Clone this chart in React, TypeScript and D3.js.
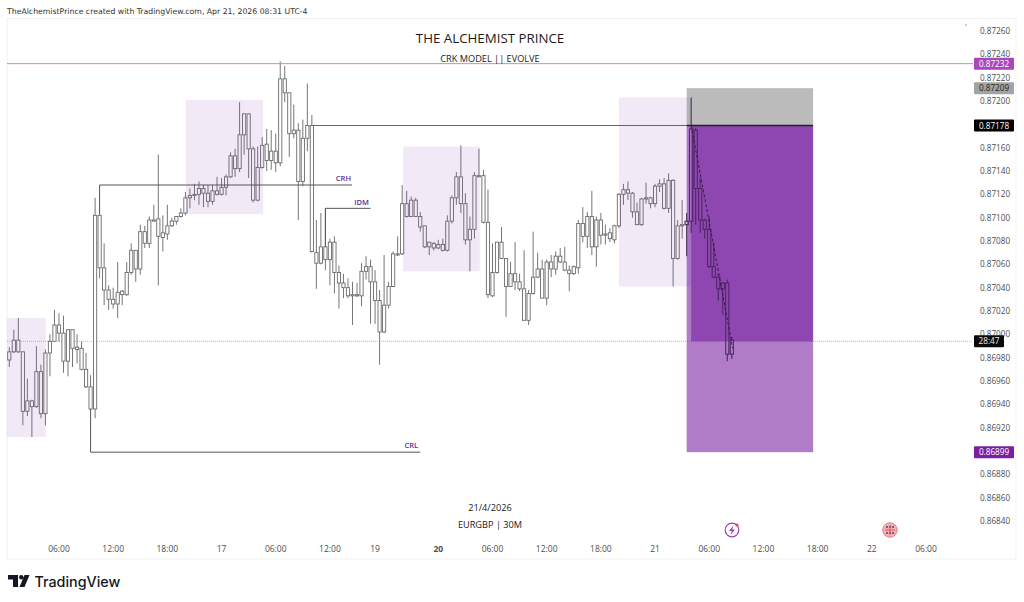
import React, { useEffect, useRef } from 'react';
import * as d3 from 'd3';

const width = 1024;
const height = 602;

// EURGBP 30m candles, prices in points (87000 = 0.87000)
const opens = [
  86978, 86985, 86995, 86985, 86934, 86943, 86938, 86968, 86932, 86984,
  86994, 87008, 87001, 86977, 87004, 86989, 86988, 86970, 86955, 86936,
  87102, 87057, 87038, 87030, 87026, 87037, 87034, 87053, 87072, 87056,
  87088, 87078, 87098, 87099, 87083, 87086, 87093, 87097, 87101, 87104,
  87117, 87119, 87120, 87125, 87121, 87114, 87123, 87120, 87126, 87135,
  87153, 87142, 87171, 87189, 87159, 87115, 87143, 87163, 87149, 87157,
  87147, 87219, 87207, 87172, 87175, 87131, 87168, 87179, 87070, 87061,
  87075, 87064, 87079, 87053, 87044, 87040, 87034, 87033, 87033, 87054,
  87058, 87045, 87029, 87002, 87025, 87041, 87069, 87069, 87112, 87101,
  87115, 87101, 87093, 87079, 87074, 87077, 87072, 87072, 87097, 87117,
  87135, 87112, 87081, 87090, 87136, 87136, 87096, 87033, 87053, 87079,
  87065, 87041, 87052, 87045, 87039, 87012, 87035, 87049, 87056, 87031,
  87062, 87056, 87067, 87062, 87055, 87052, 87057, 87095, 87084, 87101,
  87075, 87098, 87086, 87087, 87081, 87093, 87120, 87124, 87121, 87105,
  87094, 87116, 87117, 87112, 87127, 87129, 87108, 87132, 87065, 87093,
  87094, 87097, 87175, 87125, 87098, 87090, 87058, 87049, 87039, 87044,
  86983,
];
const highs = [
  86989, 87004, 87014, 86985, 86962, 86944, 86990, 86974, 86987, 87000,
  87021, 87018, 87016, 87004, 87004, 87000, 86994, 86984, 86965, 87117,
  87103, 87078, 87042, 87040, 87062, 87038, 87062, 87078, 87072, 87094,
  87093, 87101, 87111, 87154, 87102, 87111, 87100, 87101, 87108, 87122,
  87125, 87129, 87131, 87128, 87128, 87128, 87135, 87134, 87137, 87156,
  87159, 87199, 87189, 87189, 87161, 87161, 87169, 87176, 87175, 87172,
  87234, 87230, 87207, 87197, 87181, 87184, 87215, 87188, 87098, 87104,
  87108, 87082, 87084, 87059, 87052, 87048, 87045, 87044, 87061, 87067,
  87064, 87055, 87038, 87068, 87045, 87071, 87084, 87128, 87123, 87118,
  87117, 87105, 87093, 87079, 87079, 87081, 87082, 87102, 87119, 87139,
  87162, 87121, 87101, 87139, 87159, 87141, 87124, 87078, 87079, 87092,
  87065, 87062, 87079, 87052, 87072, 87038, 87088, 87070, 87064, 87064,
  87068, 87071, 87074, 87075, 87059, 87059, 87098, 87109, 87105, 87123,
  87101, 87104, 87094, 87091, 87094, 87121, 87129, 87131, 87122, 87113,
  87117, 87130, 87118, 87129, 87133, 87134, 87138, 87133, 87098, 87115,
  87104, 87203, 87177, 87134, 87099, 87101, 87079, 87052, 87045, 87047,
  86998,
];
const lows = [
  86972, 86984, 86984, 86922, 86930, 86912, 86937, 86928, 86922, 86964,
  86994, 86994, 86967, 86964, 86972, 86975, 86969, 86954, 86935, 86928,
  87048, 87025, 87021, 87022, 87014, 87025, 87033, 87051, 87045, 87051,
  87074, 87074, 87097, 87042, 87071, 87081, 87092, 87094, 87100, 87102,
  87108, 87115, 87111, 87109, 87109, 87111, 87119, 87119, 87119, 87134,
  87135, 87139, 87154, 87134, 87113, 87114, 87142, 87140, 87141, 87139,
  87144, 87199, 87152, 87168, 87098, 87127, 87157, 87070, 87039, 87060,
  87055, 87042, 87035, 87022, 87031, 87031, 87008, 87032, 87024, 87047,
  87009, 87009, 86974, 87001, 87022, 87041, 87067, 87068, 87100, 87101,
  87101, 87088, 87074, 87068, 87072, 87073, 87071, 87071, 87095, 87111,
  87104, 87077, 87054, 87082, 87135, 87095, 87031, 87032, 87052, 87065,
  87015, 87041, 87038, 87037, 87012, 87008, 87034, 87048, 87031, 87025,
  87049, 87051, 87061, 87054, 87037, 87051, 87052, 87079, 87074, 87068,
  87058, 87077, 87077, 87079, 87078, 87091, 87111, 87115, 87100, 87094,
  87093, 87112, 87108, 87109, 87122, 87107, 87104, 87041, 87064, 87082,
  87067, 87087, 87094, 87087, 87082, 87057, 87048, 87029, 87017, 86977,
  86979,
];
const closes = [
  86985, 86995, 86985, 86934, 86943, 86938, 86968, 86932, 86984, 86994,
  87008, 87001, 86977, 87004, 86988, 86987, 86970, 86955, 86936, 87102,
  87057, 87038, 87030, 87026, 87036, 87034, 87053, 87072, 87056, 87088,
  87078, 87098, 87097, 87084, 87087, 87093, 87097, 87101, 87104, 87117,
  87119, 87120, 87125, 87121, 87114, 87123, 87120, 87126, 87135, 87153,
  87142, 87171, 87189, 87159, 87115, 87143, 87162, 87149, 87157, 87147,
  87219, 87207, 87172, 87175, 87131, 87168, 87179, 87071, 87061, 87075,
  87064, 87079, 87053, 87044, 87040, 87033, 87033, 87034, 87054, 87058,
  87045, 87029, 87002, 87025, 87041, 87069, 87068, 87112, 87101, 87115,
  87101, 87092, 87075, 87075, 87078, 87074, 87077, 87097, 87117, 87135,
  87112, 87081, 87090, 87136, 87135, 87096, 87034, 87053, 87079, 87065,
  87041, 87052, 87045, 87039, 87012, 87035, 87049, 87056, 87031, 87062,
  87056, 87067, 87062, 87055, 87052, 87058, 87095, 87084, 87101, 87075,
  87098, 87085, 87085, 87082, 87093, 87120, 87124, 87121, 87105, 87094,
  87116, 87117, 87112, 87127, 87129, 87108, 87132, 87065, 87093, 87094,
  87097, 87176, 87125, 87098, 87090, 87058, 87049, 87039, 87044, 86983,
  86995,
];

const priceTicks = [
  0.8726, 0.8724, 0.8722, 0.872, 0.8716, 0.8714, 0.8712, 0.871, 0.8708, 0.8706, 0.8704,
  0.8702, 0.87, 0.8698, 0.8696, 0.8694, 0.8692, 0.8688, 0.8686, 0.8684,
];
const timeTickBars = [11, 23, 35, 47, 59, 71, 81, 95, 107, 119, 131, 143, 155, 167, 179, 191, 203];
const timeTickLabels = ['06:00', '12:00', '18:00', '17', '06:00', '12:00', '19', '20', '06:00', '12:00', '18:00', '21', '06:00', '12:00', '18:00', '22', '06:00'];

// highlighted boxes: [first bar, last bar, top price, bottom price]
const zones = [
  [-0.5, 8.1, 0.87014, 0.86912],
  [39.1, 56.2, 0.87201, 0.87103],
  [87.2, 104.2, 0.87161, 0.87054],
  [135, 151.2, 0.87203, 0.87041],
];

const stopPrice = 0.87211;
const entryPrice = 0.87179;
const targetPrice = 0.86899;
const lastPrice = 0.86994;
const crhPrice = 0.87232;

const App: React.FC = () => {
  const svgRef = useRef<SVGSVGElement>(null);

  useEffect(() => {
    if (!svgRef.current) return;
    const svg = d3.select(svgRef.current);
    svg.selectAll('*').remove();

    const x = d3.scaleLinear().domain([0, 203]).range([9.3, 926]);
    const y = d3.scaleLinear().domain([0.8726, 0.8684]).range([31, 521]);
    const pt = (v: number) => y(v / 100000);
    const left = 7;
    const plotRight = 973;
    const font = '"Open Sans", sans-serif';

    // panel frame
    svg.append('rect')
      .attr('x', left).attr('y', 18.5)
      .attr('width', 1016 - left).attr('height', 540.5)
      .attr('fill', '#fff').attr('stroke', '#f1f1f3');

    svg.append('text')
      .attr('x', 7).attr('y', 13.5)
      .attr('font-family', '"DejaVu Sans", sans-serif').attr('font-size', 7.75)
      .attr('fill', '#333')
      .text('TheAlchemistPrince created with TradingView.com, Apr 21, 2026 08:31 UTC-4');

    // last price dotted line under candles
    svg.append('line')
      .attr('x1', left).attr('x2', plotRight)
      .attr('y1', y(lastPrice)).attr('y2', y(lastPrice))
      .attr('stroke', '#bdbdbd').attr('stroke-width', 1).attr('stroke-dasharray', '1 1');

    // candles
    const bars = d3.range(opens.length);
    const candles = svg.append('g');
    candles.selectAll('line')
      .data(bars)
      .join('line')
      .attr('x1', (i) => x(i)).attr('x2', (i) => x(i))
      .attr('y1', (i) => pt(highs[i])).attr('y2', (i) => pt(lows[i]))
      .attr('stroke', '#666').attr('stroke-width', 0.9);
    candles.selectAll('rect')
      .data(bars)
      .join('rect')
      .attr('x', (i) => x(i) - 1.6)
      .attr('width', 3.2)
      .attr('y', (i) => pt(Math.max(opens[i], closes[i])))
      .attr('height', (i) => Math.max(0.8, Math.abs(pt(opens[i]) - pt(closes[i]))))
      .attr('fill', '#fff').attr('stroke', '#6b6b6b').attr('stroke-width', 0.9);

    // zones go over the candles
    svg.append('g').selectAll('rect')
      .data(zones)
      .join('rect')
      .attr('x', (d) => x(d[0]))
      .attr('y', (d) => y(d[2]))
      .attr('width', (d) => x(d[1]) - x(d[0]))
      .attr('height', (d) => y(d[3]) - y(d[2]))
      .attr('fill', 'rgb(128,60,172)').attr('fill-opacity', 0.11);

    // short position tool
    const toolStart = x(150);
    const toolDark = x(151);
    const toolEnd = x(178);
    svg.append('rect')
      .attr('x', toolStart).attr('width', toolEnd - toolStart)
      .attr('y', y(stopPrice)).attr('height', y(entryPrice) - y(stopPrice))
      .attr('fill', 'rgb(120,120,120)').attr('fill-opacity', 0.5);
    svg.append('rect')
      .attr('x', toolStart).attr('width', toolEnd - toolStart)
      .attr('y', y(entryPrice)).attr('height', y(targetPrice) - y(entryPrice))
      .attr('fill', 'rgb(123,37,163)').attr('fill-opacity', 0.6);
    svg.append('rect')
      .attr('x', toolDark).attr('width', toolEnd - toolDark)
      .attr('y', y(entryPrice)).attr('height', y(lastPrice) - y(entryPrice))
      .attr('fill', 'rgb(120,35,160)').attr('fill-opacity', 0.6);

    // the candles under the tool still read dark through it
    const covered = bars.filter((i) => i >= 150);
    const over = svg.append('g').attr('stroke', '#3b2350').attr('stroke-opacity', 0.75);
    over.selectAll('line')
      .data(covered)
      .join('line')
      .attr('x1', (i) => x(i)).attr('x2', (i) => x(i))
      .attr('y1', (i) => pt(highs[i]))
      .attr('y2', (i) => pt(Math.max(opens[i], closes[i])))
      .attr('stroke-width', 0.9);
    over.selectAll('line.low')
      .data(covered)
      .join('line')
      .attr('class', 'low')
      .attr('x1', (i) => x(i)).attr('x2', (i) => x(i))
      .attr('y1', (i) => pt(Math.min(opens[i], closes[i])))
      .attr('y2', (i) => pt(lows[i]))
      .attr('stroke-width', 0.9);
    over.selectAll('rect')
      .data(covered)
      .join('rect')
      .attr('x', (i) => x(i) - 1.6)
      .attr('width', 3.2)
      .attr('y', (i) => pt(Math.max(opens[i], closes[i])))
      .attr('height', (i) => Math.max(0.8, Math.abs(pt(opens[i]) - pt(closes[i]))))
      .attr('fill', 'none').attr('stroke-width', 0.9);

    svg.append('line')
      .attr('x1', x(151)).attr('x2', x(160.2))
      .attr('y1', y(entryPrice)).attr('y2', y(0.86988))
      .attr('stroke', '#2f1f3a').attr('stroke-width', 1).attr('stroke-dasharray', '3 2');

    // structure lines
    const seg = (x1: number, y1: number, x2: number, y2: number, c = '#555', w = 1) =>
      svg.append('line')
        .attr('x1', x1).attr('y1', y1).attr('x2', x2).attr('y2', y2)
        .attr('stroke', c).attr('stroke-width', w);

    seg(left, y(crhPrice), plotRight, y(crhPrice), '#c884d2');
    seg(x(67), y(entryPrice), x(150), y(entryPrice), '#666');
    seg(toolStart, y(entryPrice), toolEnd, y(entryPrice), '#222', 1.4);

    seg(x(20), y(0.87128), x(75.9), y(0.87128));
    seg(x(20), y(0.87128), x(20), y(0.87103));
    seg(x(70), y(0.87108), x(80), y(0.87108));
    seg(x(70), y(0.87108), x(70), y(0.87075));
    seg(x(18), y(targetPrice), x(91), y(targetPrice));
    seg(x(18), y(targetPrice), x(18), y(0.86936));

    const tag = (label: string, tx: number, ty: number) =>
      svg.append('text')
        .attr('x', tx).attr('y', ty).attr('text-anchor', 'middle')
        .attr('font-family', font).attr('font-size', 7.5).attr('font-weight', 600)
        .attr('fill', '#5b2a96').text(label);
    tag('CRH', x(74), y(0.87128) - 4);
    tag('IDM', x(78), y(0.87108) - 3.5);
    tag('CRL', x(89), y(targetPrice) - 4);

    // titles
    const center = (label: string, cy: number, size: number) =>
      svg.append('text')
        .attr('x', 490).attr('y', cy).attr('text-anchor', 'middle')
        .attr('font-family', font).attr('font-size', size).attr('font-weight', 500)
        .attr('fill', '#1a1a1a').text(label);
    center('THE ALCHEMIST PRINCE', 43, 13.3);
    center('CRK MODEL || EVOLVE', 61.5, 9.2);
    center('21/4/2026', 511, 9.2);
    center('EURGBP | 30M', 527.5, 9.2);

    // price scale
    svg.append('g').selectAll('text')
      .data(priceTicks)
      .join('text')
      .attr('x', 995).attr('y', (d) => y(d) + 3)
      .attr('text-anchor', 'middle')
      .attr('font-family', font).attr('font-size', 8.2)
      .attr('fill', '#4d4d4d')
      .text((d) => d.toFixed(5));

    const badge = (label: string, price: number, bg: string, fg: string, bx = 974, bw = 40) => {
      const cy = y(price);
      svg.append('rect')
        .attr('x', bx).attr('y', cy - 6).attr('width', bw).attr('height', 12)
        .attr('rx', 1).attr('fill', bg);
      svg.append('text')
        .attr('x', bx + bw / 2).attr('y', cy + 3).attr('text-anchor', 'middle')
        .attr('font-family', font).attr('font-size', 8.2).attr('fill', fg)
        .text(label);
    };
    badge('0.87232', crhPrice, '#ab47bc', '#fff');
    badge('0.87209', stopPrice, '#a3a3a3', '#222');
    badge('0.87178', entryPrice, '#000', '#fff');
    badge('0.86899', targetPrice, '#7b1fa2', '#fff');
    badge('28:47', lastPrice, '#0a0a0a', '#eee', 974, 30);

    // time scale
    svg.append('g').selectAll('text')
      .data(timeTickBars)
      .join('text')
      .attr('x', (d) => x(d)).attr('y', 552)
      .attr('text-anchor', 'middle')
      .attr('font-family', font).attr('font-size', 8.5)
      .attr('font-weight', (_, i) => (timeTickLabels[i] === '20' ? 700 : 400))
      .attr('fill', '#4d4d4d')
      .text((_, i) => timeTickLabels[i]);

    // small mark top right of the plot
    svg.append('circle').attr('cx', 966).attr('cy', 25).attr('r', 0.7).attr('fill', '#777');

    // event icons
    svg.append('circle').attr('cx', 732).attr('cy', 530).attr('r', 6.8)
      .attr('fill', '#fff').attr('stroke', '#9c3fb5').attr('stroke-width', 1.2);
    svg.append('path').attr('d', 'M733.5 525.5 L729 531 L731.8 531 L730.5 535 L735 529.5 L732.2 529.5 Z')
      .attr('fill', '#9c3fb5');
    svg.append('circle').attr('cx', 737).attr('cy', 525).attr('r', 1.6).attr('fill', '#e5484d');

    svg.append('circle').attr('cx', 890).attr('cy', 530).attr('r', 7.2)
      .attr('fill', '#f3b3b6').attr('stroke', '#e57a80').attr('stroke-width', 1);
    svg.append('g').selectAll('circle')
      .data(d3.cross([-3, 0, 3], [-3, 3]))
      .join('circle')
      .attr('cx', (d) => 890 + d[0]).attr('cy', (d) => 530 + d[1])
      .attr('r', 1).attr('fill', '#3d4a7a');
    svg.append('path').attr('d', 'M885 530 H895 M890 525 V535')
      .attr('stroke', '#e5484d').attr('stroke-width', 0.9);

    // TradingView logo
    const logo = svg.append('g').attr('fill', '#131722');
    logo.append('path').attr('d', 'M8 575 H18 V587 H13 V579.5 H8 Z');
    logo.append('circle').attr('cx', 21.3).attr('cy', 577.2).attr('r', 2.2);
    logo.append('path').attr('d', 'M24.5 575 H29.5 L24.5 587 H19.5 Z');
    logo.append('text')
      .attr('x', 34.5).attr('y', 586.5)
      .attr('font-family', 'Inter, sans-serif').attr('font-size', 14.3).attr('font-weight', 500)
      .text('TradingView');
  }, []);

  return (
    <svg
      ref={svgRef}
      width={width}
      height={height}
      style={{ position: 'absolute', left: 0, top: 0, display: 'block', background: '#fff' }}
    />
  );
};

export default App;
